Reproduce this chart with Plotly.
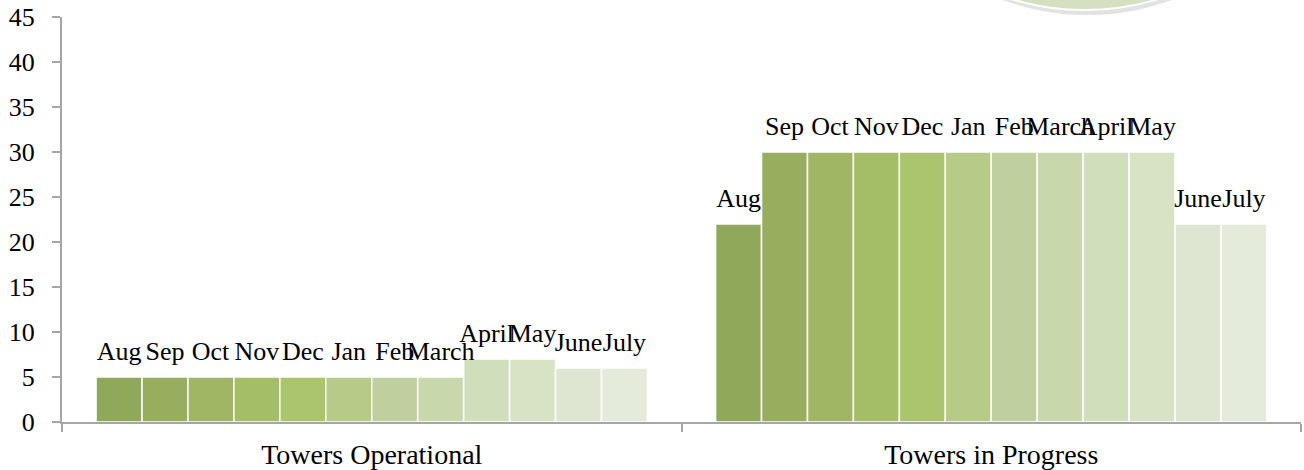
import plotly.graph_objects as go

categories = ["Towers Operational", "Towers in Progress"]
months = ["Aug", "Sep", "Oct", "Nov", "Dec", "Jan", "Feb", "March", "April", "May", "June", "July"]
operational = [5, 5, 5, 5, 5, 5, 5, 5, 7, 7, 6, 6]
in_progress = [22, 30, 30, 30, 30, 30, 30, 30, 30, 30, 22, 22]
colors = ["#8FA85A", "#98AE5F", "#A0B664", "#A4BD67", "#ABC56F", "#B5CB87",
          "#BFCF9D", "#C8D8AC", "#D0DEBB", "#D8E2C5", "#DEE6D1", "#E4EBDB"]
y_ticks = [0, 5, 10, 15, 20, 25, 30, 35, 40, 45]

FONT = "Liberation Serif"

fig = go.Figure()
# coloured bars
for i, m in enumerate(months):
    fig.add_trace(go.Bar(
        name=m,
        x=categories,
        y=[operational[i], in_progress[i]],
        marker=dict(color=colors[i], line=dict(color="#FFFFFF", width=1.5)),
        hoverinfo="skip",
    ))
# labels drawn on an overlaid copy so they sit on top of every bar
for i, m in enumerate(months):
    fig.add_trace(go.Bar(
        name=m + " label",
        x=categories,
        y=[operational[i], in_progress[i]],
        xaxis="x2", yaxis="y2",
        text=[m, m],
        textposition="outside",
        constraintext="none",
        cliponaxis=False,
        textfont=dict(family=FONT, size=26, color="#000000"),
        marker=dict(color="rgba(0,0,0,0)", line=dict(width=0)),
        hoverinfo="skip",
    ))

# decorative circle peeking in at the top
fig.add_shape(type="circle", xref="paper", yref="paper",
              x0=0.626, x1=1.029, y0=1.005, y1=2.25,
              fillcolor="rgba(140,140,140,0.25)", line=dict(width=0), layer="above")
fig.add_shape(type="circle", xref="paper", yref="paper",
              x0=0.624, x1=1.027, y0=1.017, y1=2.25,
              fillcolor="#D5E0C2", line=dict(color="#FFFFFF", width=2), layer="above")

fig.update_layout(
    width=1304, height=470,
    margin=dict(l=62, r=3, t=17, b=48),
    paper_bgcolor="white", plot_bgcolor="white",
    barmode="group", bargap=0.11, bargroupgap=0,
    showlegend=False,
    font=dict(family=FONT, size=26, color="#000000"),
    xaxis=dict(
        automargin=False,
        showline=True, linecolor="#A6A6A6", linewidth=2,
        ticks="outside", tickson="boundaries", ticklen=8, tickcolor="#A6A6A6", tickwidth=1.5,
        tickfont=dict(family=FONT, size=28, color="#000000"),
        ticklabelstandoff=6,
        showgrid=False, zeroline=False,
    ),
    yaxis=dict(
        automargin=False,
        range=[0, 45], tickvals=y_ticks, ticktext=[str(v) for v in y_ticks],
        showline=True, linecolor="#A6A6A6", linewidth=2,
        ticks="outside", ticklen=8, tickcolor="#A6A6A6", tickwidth=1.5,
        tickfont=dict(family=FONT, size=26, color="#000000"),
        ticklabelstandoff=12,
        showgrid=False, zeroline=False,
    ),
    xaxis2=dict(overlaying="x", matches="x", visible=False, automargin=False),
    # label layer lifted slightly so the labels float a little above the bars
    yaxis2=dict(overlaying="y", range=[-0.85, 44.15], visible=False, automargin=False),
)

fig.write_html(
    "out.html",
    config={"displayModeBar": False},
    post_script="document.body.style.margin='0';document.body.style.overflow='hidden';",
)
